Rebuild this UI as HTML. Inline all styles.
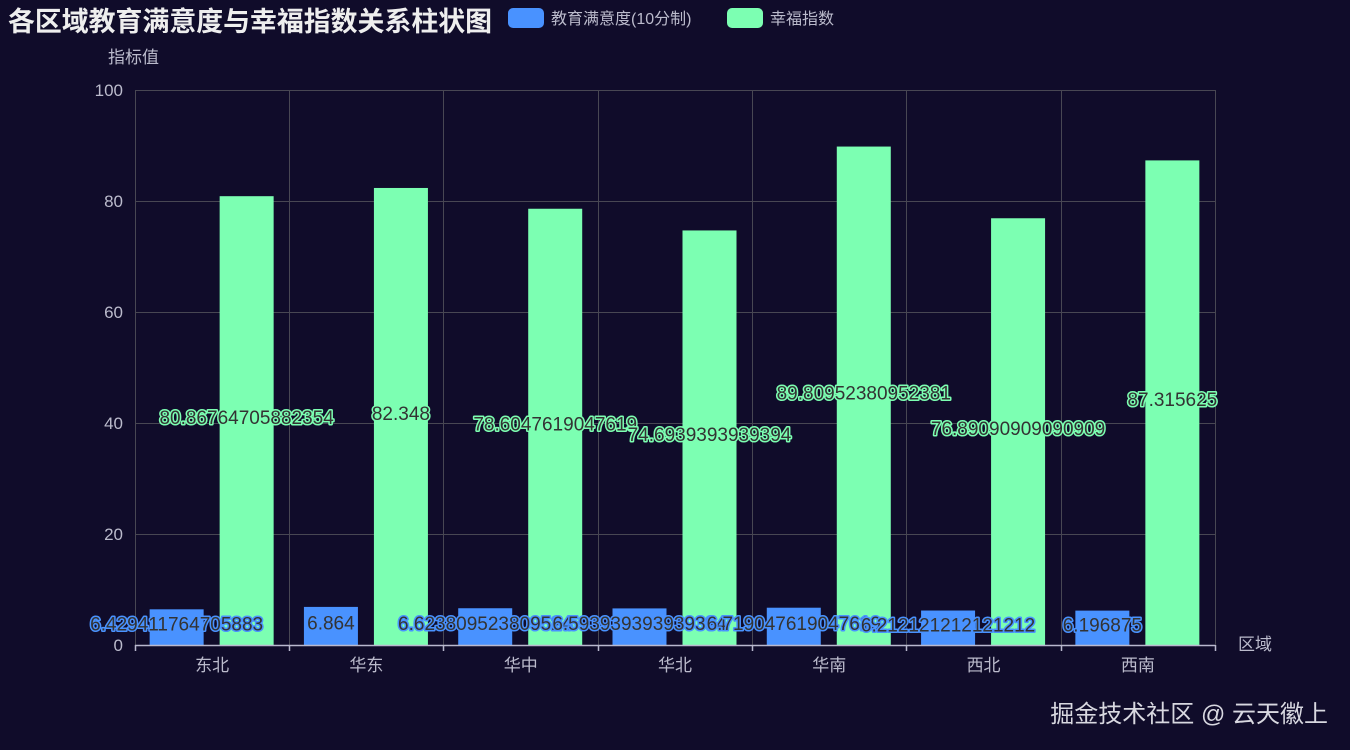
<!DOCTYPE html>
<html><head><meta charset="utf-8"><style>
html,body{margin:0;padding:0;background:#100c2a;}
svg{display:block;font-family:"Liberation Sans","Noto Sans CJK SC",sans-serif;}
.lb{font-size:19px;fill:#333;stroke-width:3;paint-order:stroke;stroke-linejoin:round;text-anchor:middle;dominant-baseline:central;}
</style></head><body>
<svg width="1350" height="750" xmlns="http://www.w3.org/2000/svg">
<rect width="1350" height="750" fill="#100c2a"/>
<text x="8" y="31" font-size="27" font-weight="bold" fill="#eeeeee" textLength="484" lengthAdjust="spacingAndGlyphs">各区域教育满意度与幸福指数关系柱状图</text>
<rect x="508" y="8" width="36" height="20" rx="5" fill="#4992ff"/>
<text x="551" y="24" font-size="16" fill="#bbbbcc">教育满意度(10分制)</text>
<rect x="727" y="8" width="36" height="20" rx="5" fill="#7cffb2"/>
<text x="770" y="24" font-size="16" fill="#bbbbcc">幸福指数</text>
<text x="108" y="63" font-size="17" fill="#bbbbcc">指标值</text>
<text x="1238" y="650" font-size="17" fill="#bbbbcc">区域</text>
<g stroke="#484753" stroke-width="1">
<line x1="135" y1="90.5" x2="1215" y2="90.5"/><line x1="135" y1="201.5" x2="1215" y2="201.5"/>
<line x1="135" y1="312.5" x2="1215" y2="312.5"/><line x1="135" y1="423.5" x2="1215" y2="423.5"/>
<line x1="135" y1="534.5" x2="1215" y2="534.5"/>
<line x1="135.5" y1="90" x2="135.5" y2="645"/><line x1="289.5" y1="90" x2="289.5" y2="645"/>
<line x1="443.5" y1="90" x2="443.5" y2="645"/><line x1="598.5" y1="90" x2="598.5" y2="645"/>
<line x1="752.5" y1="90" x2="752.5" y2="645"/><line x1="906.5" y1="90" x2="906.5" y2="645"/>
<line x1="1061.5" y1="90" x2="1061.5" y2="645"/><line x1="1215.5" y1="90" x2="1215.5" y2="645"/>
</g>
<g font-size="17" fill="#bbbbcc" text-anchor="end">
<text x="123" y="96">100</text><text x="123" y="207">80</text><text x="123" y="318">60</text>
<text x="123" y="429">40</text><text x="123" y="540">20</text><text x="123" y="651">0</text>
</g>
<g id="bars"></g>
<line x1="135" y1="645.5" x2="1215" y2="645.5" stroke="#b9b8ce" stroke-width="1.5"/>
<g stroke="#b9b8ce" stroke-width="1.5">
<line x1="135.5" y1="645" x2="135.5" y2="651"/><line x1="289.5" y1="645" x2="289.5" y2="651"/>
<line x1="443.5" y1="645" x2="443.5" y2="651"/><line x1="598.5" y1="645" x2="598.5" y2="651"/>
<line x1="752.5" y1="645" x2="752.5" y2="651"/><line x1="906.5" y1="645" x2="906.5" y2="651"/>
<line x1="1061.5" y1="645" x2="1061.5" y2="651"/><line x1="1215.5" y1="645" x2="1215.5" y2="651"/>
</g>
<g id="labs"></g>
<text x="1328" y="722" font-size="24" fill="#d8d8e0" text-anchor="end">掘金技术社区 @ 云天徽上</text>
<script>
var cats=["东北","华东","华中","华北","华南","西北","西南"];
var b=[6.429411764705883,6.864,6.623809523809524,6.593939393939394,6.719047619047619,6.212121212121212,6.196875];
var g=[80.86764705882354,82.348,78.6047619047619,74.6939393939394,89.80952380952381,76.89090909090909,87.315625];
var ns="http://www.w3.org/2000/svg",bars=document.getElementById("bars"),labs=document.getElementById("labs");
function el(p,t,a,txt){var e=document.createElementNS(ns,t);for(var k in a)e.setAttribute(k,a[k]);if(txt!=null)e.textContent=txt;p.appendChild(e);return e;}
for(var i=0;i<7;i++){
 var cx=135+1080/7*(i+0.5);
 var hb=b[i]*5.55,hg=g[i]*5.55;
 el(bars,"rect",{x:cx-62.5,y:645-hb,width:54,height:hb,fill:"#4992ff"});
 el(bars,"rect",{x:cx+7.5,y:645-hg,width:54,height:hg,fill:"#7cffb2"});
 el(labs,"text",{x:cx,y:671,"font-size":17,fill:"#bbbbcc","text-anchor":"middle"},cats[i]);
 el(labs,"text",{x:cx-35.5,y:645-hb/2-2,"class":"lb",stroke:"#4992ff"},String(b[i]));
 el(labs,"text",{x:cx+34.5,y:645-hg/2-2,"class":"lb",stroke:"#7cffb2"},String(g[i]));
}
</script>
</svg>
</body></html>
